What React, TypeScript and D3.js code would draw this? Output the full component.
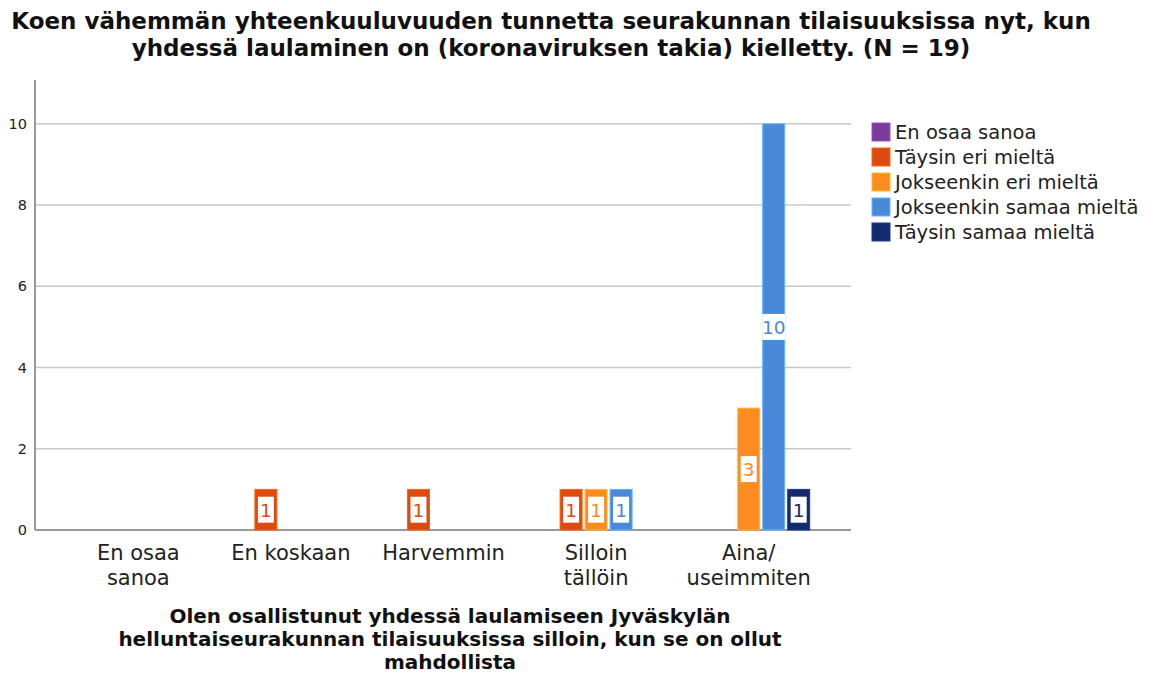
import * as d3 from "d3";

const width = 1154;
const height = 674;

const categories = ["En osaa sanoa", "En koskaan", "Harvemmin", "Silloin tällöin", "Aina/ useimmiten"];
const categoryLines = [["En osaa", "sanoa"], ["En koskaan"], ["Harvemmin"], ["Silloin", "tällöin"], ["Aina/", "useimmiten"]];
const seriesNames = [
  "En osaa sanoa",
  "Täysin eri mieltä",
  "Jokseenkin eri mieltä",
  "Jokseenkin samaa mieltä",
  "Täysin samaa mieltä",
];
const seriesColors = ["#7b3b9a", "#db4a0e", "#fb8c1f", "#4a89d9", "#142a6e"];
const enOsaaSanoa = [0, 0, 0, 0, 0];
const taysinEri = [0, 1, 1, 1, 0];
const jokseenkinEri = [0, 0, 0, 1, 3];
const jokseenkinSamaa = [0, 0, 0, 1, 10];
const taysinSamaa = [0, 0, 0, 0, 1];
const seriesValues = [enOsaaSanoa, taysinEri, jokseenkinEri, jokseenkinSamaa, taysinSamaa];
const yTicks = [0, 2, 4, 6, 8, 10];

const titleLines = [
  "Koen vähemmän yhteenkuuluvuuden tunnetta seurakunnan tilaisuuksissa nyt, kun",
  "yhdessä laulaminen on (koronaviruksen takia) kielletty. (N = 19)",
];
const xTitleLines = [
  "Olen osallistunut yhdessä laulamiseen Jyväskylän",
  "helluntaiseurakunnan tilaisuuksissa silloin, kun se on ollut",
  "mahdollista",
];

const font = "'DejaVu Sans', sans-serif";

const plotLeft = 35;
const plotRight = 851;
const plotTop = 80;
const plotBottom = 530;

const App = () => {
  const x0 = d3.scaleBand().domain(categories).range([62, 825]);
  const x1 = d3
    .scaleBand()
    .domain(seriesNames)
    .range([0, 125])
    .paddingInner(0.12)
    .paddingOuter(0.06);
  const y = d3.scaleLinear().domain([0, 11.08]).range([plotBottom, plotTop]);

  const bars: { cat: string; s: number; v: number }[] = [];
  seriesValues.forEach((vals, s) =>
    vals.forEach((v, i) => {
      if (v > 0) bars.push({ cat: categories[i], s, v });
    })
  );

  return (
    <svg width={width} height={height} style={{ position: "absolute", left: 0, top: 0, background: "#fff" }}>
      {titleLines.map((t, i) => (
        <text key={t} x={551} y={29 + i * 27} textAnchor="middle" fontFamily={font} fontWeight="bold" fontSize={23} fill="#111">
          {t}
        </text>
      ))}
      {yTicks.map((t) => (
        <g key={t}>
          {t > 0 && <line x1={plotLeft} x2={plotRight} y1={y(t)} y2={y(t)} stroke="#c8c8c8" strokeWidth={1.5} />}
          <text x={27} y={y(t) + 5} textAnchor="end" fontFamily={font} fontSize={14.5} fill="#222">
            {t}
          </text>
        </g>
      ))}
      <line x1={plotLeft} x2={plotLeft} y1={plotTop} y2={plotBottom} stroke="#999" strokeWidth={2} />
      <line x1={plotLeft} x2={plotRight} y1={plotBottom} y2={plotBottom} stroke="#999" strokeWidth={2} />
      {bars.map((b) => {
        const bx = (x0(b.cat) ?? 0) + (x0.bandwidth() - 125) / 2 + (x1(seriesNames[b.s]) ?? 0);
        const bw = x1.bandwidth();
        const top = y(b.v);
        const mid = (top + plotBottom) / 2;
        const color = seriesColors[b.s];
        const label = String(b.v);
        const boxW = Math.min(bw + 1, label.length * 11 + 5);
        return (
          <g key={b.cat + b.s}>
            <rect x={bx} y={top} width={bw} height={plotBottom - top} fill={color} stroke={d3.color(color)!.brighter(0.8).toString()} strokeWidth={1} />
            <rect x={bx + bw / 2 - boxW / 2} y={mid - 13} width={boxW} height={26} fill="#fff" />
            <text x={bx + bw / 2} y={mid + 7} textAnchor="middle" fontFamily={font} fontSize={18.5} fill={color}>
              {label}
            </text>
          </g>
        );
      })}
      {categories.map((c, i) => (
        <text key={c} x={(x0(c) ?? 0) + x0.bandwidth() / 2} y={560} textAnchor="middle" fontFamily={font} fontSize={21} fill="#222">
          {categoryLines[i].map((l, j) => (
            <tspan key={l} x={(x0(c) ?? 0) + x0.bandwidth() / 2} dy={j === 0 ? 0 : 25}>
              {l}
            </tspan>
          ))}
        </text>
      ))}
      {xTitleLines.map((t, i) => (
        <text key={t} x={450} y={623 + i * 23} textAnchor="middle" fontFamily={font} fontWeight="bold" fontSize={20} fill="#111">
          {t}
        </text>
      ))}
      {seriesNames.map((s, i) => (
        <g key={s} transform={`translate(872, ${123 + i * 25})`}>
          <rect width={18} height={18} fill={seriesColors[i]} stroke={d3.color(seriesColors[i])!.brighter(0.8).toString()} />
          <text x={23} y={16} fontFamily={font} fontSize={19.5} fill="#222">
            {s}
          </text>
        </g>
      ))}
    </svg>
  );
};

export default App;
